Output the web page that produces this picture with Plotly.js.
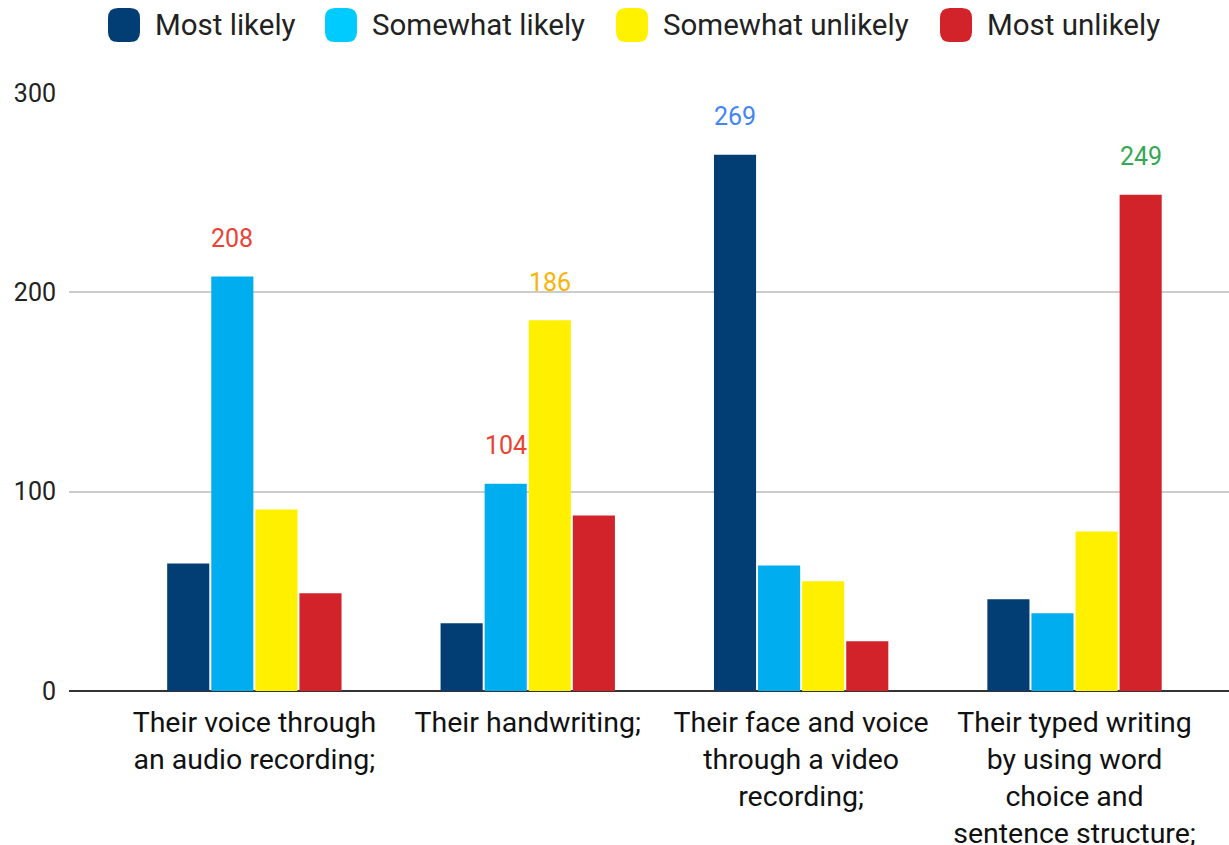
<!DOCTYPE html>
<html>
<head>
<meta charset="utf-8">
<script src="https://cdn.plot.ly/plotly-3.0.1.min.js"></script>
<style>html,body{margin:0;padding:0;background:#fff;}#chart{width:1229px;height:845px;}</style>
</head>
<body>
<div id="chart"></div>
<script>
// ---- data ----
var categories = [
  "Their voice through<br>an audio recording;",
  "Their handwriting;",
  "Their face and voice<br>through a video<br>recording;",
  "Their typed writing<br>by using word<br>choice and<br>sentence structure;"
];
var seriesNames = ["Most likely", "Somewhat likely", "Somewhat unlikely", "Most unlikely"];
var mostLikely       = [64, 34, 269, 46];
var somewhatLikely   = [208, 104, 63, 39];
var somewhatUnlikely = [91, 186, 55, 80];
var mostUnlikely     = [49, 88, 25, 249];
var yTicks = [0, 100, 200, 300];
// highlighted value labels: [category index, series index]
var labelCat    = [0, 1, 1, 2, 3];
var labelSeries = [1, 1, 2, 0, 3];

// ---- styles ----
var barColors    = ["#023e73", "#00aeef", "#fff000", "#d2232a"];
var legendColors = ["#023e73", "#00cbff", "#fff200", "#d2232a"];
var labelColors  = ["#ea4335", "#ea4335", "#f9b409", "#4285f4", "#34a853"];
var FONT = "Roboto, 'Noto Sans', sans-serif";

var seriesValues = [mostLikely, somewhatLikely, somewhatUnlikely, mostUnlikely];
var bargap = 0.355, bargroupgap = 0.045;

var traces = seriesNames.map(function (name, s) {
  return {
    type: "bar",
    name: name,
    x: categories.map(function (c, i) { return i; }),
    y: seriesValues[s],
    marker: { color: barColors[s], line: { width: 0 } },
    showlegend: false,
    hoverinfo: "x+y+name"
  };
});

var annotations = [];
var slot = (1 - bargap) / seriesNames.length;
labelCat.forEach(function (ci, k) {
  var si = labelSeries[k];
  annotations.push({
    xref: "x", yref: "y",
    x: ci - (1 - bargap) / 2 + slot * (si + 0.5),
    y: seriesValues[si][ci],
    text: String(seriesValues[si][ci]),
    showarrow: false,
    yanchor: "middle",
    yshift: 38,
    font: { family: FONT, size: 25, color: labelColors[k] }
  });
});

// custom legend (rounded markers)
var plotL = 69, plotR = 1229, plotT = 93, plotB = 691;
function px2x(px) { return (px - plotL) / (plotR - plotL); }
function py2y(py) { return (plotB - py) / (plotB - plotT); }
var legendMarkerX = [108, 325, 616, 940];
var legendY = 25;
var shapes = [];
seriesNames.forEach(function (name, s) {
  var w = 32, h = 34, r = 10;
  var path = "M" + (-w/2 + r) + "," + (-h/2) +
    " L" + (w/2 - r) + "," + (-h/2) +
    " Q" + (w/2) + "," + (-h/2) + " " + (w/2) + "," + (-h/2 + r) +
    " L" + (w/2) + "," + (h/2 - r) +
    " Q" + (w/2) + "," + (h/2) + " " + (w/2 - r) + "," + (h/2) +
    " L" + (-w/2 + r) + "," + (h/2) +
    " Q" + (-w/2) + "," + (h/2) + " " + (-w/2) + "," + (h/2 - r) +
    " L" + (-w/2) + "," + (-h/2 + r) +
    " Q" + (-w/2) + "," + (-h/2) + " " + (-w/2 + r) + "," + (-h/2) + " Z";
  shapes.push({
    type: "path", xref: "paper", yref: "paper",
    xsizemode: "pixel", ysizemode: "pixel",
    xanchor: px2x(legendMarkerX[s] + w/2), yanchor: py2y(legendY),
    path: path, fillcolor: legendColors[s], line: { width: 0 }
  });
  annotations.push({
    xref: "paper", yref: "paper",
    x: px2x(legendMarkerX[s] + w + 13), y: py2y(legendY),
    xanchor: "left", yanchor: "middle",
    text: name, showarrow: false,
    font: { family: FONT, size: 29.5, color: "#222222" }
  });
});

var layout = {
  width: 1229, height: 845,
  margin: { l: plotL, r: 1229 - plotR, t: plotT, b: 845 - plotB },
  paper_bgcolor: "#ffffff", plot_bgcolor: "#ffffff",
  barmode: "group", bargap: bargap, bargroupgap: bargroupgap,
  showlegend: false,
  font: { family: FONT, color: "#222222" },
  xaxis: {
    tickmode: "array",
    tickvals: categories.map(function (c, i) { return i; }),
    ticktext: categories,
    range: [-0.678, 3.565],
    showgrid: false, zeroline: false, showline: false,
    ticks: "", ticklabelstandoff: 11,
    tickfont: { family: FONT, size: 28.5, color: "#111111" },
    fixedrange: true
  },
  yaxis: {
    range: [0, 300],
    tickvals: yTicks,
    showgrid: true, gridcolor: "#cccccc", gridwidth: 2,
    zeroline: true, zerolinecolor: "#333333", zerolinewidth: 2,
    showline: false, ticks: "", ticklabelstandoff: 12,
    tickfont: { family: FONT, size: 25, color: "#222222" },
    fixedrange: true
  },
  annotations: annotations,
  shapes: shapes
};

Plotly.newPlot("chart", traces, layout, { displayModeBar: false, staticPlot: true });
</script>
</body>
</html>
